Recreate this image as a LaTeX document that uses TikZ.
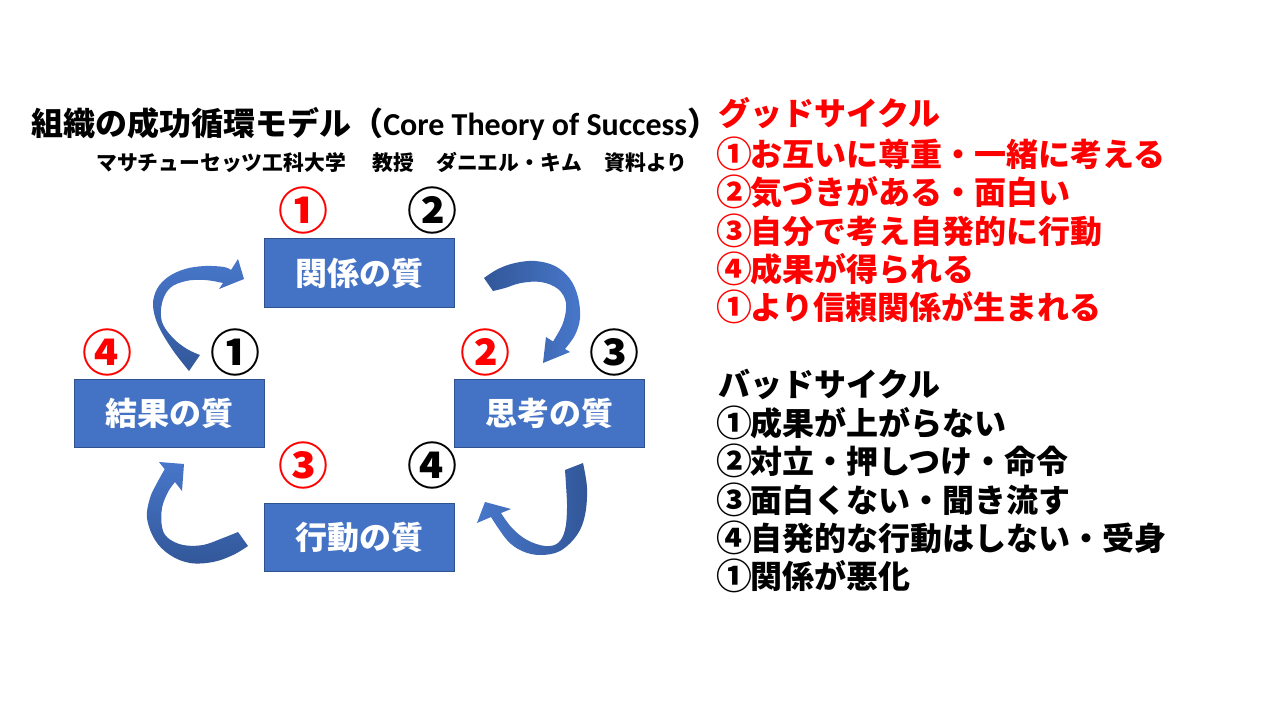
\documentclass[tikz,border=0pt]{standalone}
\usepackage{graphicx}
\usepackage{fontspec}
\setmainfont{Noto Sans CJK JP}
\newfontfamily\latfont{Carlito}
\definecolor{boxblue}{RGB}{68,114,196}
\definecolor{boxborder}{RGB}{47,82,143}
\definecolor{arrdark}{RGB}{50,87,153}
\definecolor{arrlight}{RGB}{72,119,202}
\definecolor{goodred}{RGB}{255,0,0}
\newcommand{\cnm}[1]{\makebox[1em][c]{\raisebox{-0.05em}{\scalebox{1.12}{#1}}}}
\tikzset{
  qbox/.style={draw=boxborder, line width=0.75pt, fill=boxblue, minimum width=142.5pt, minimum height=51pt,
    inner sep=0pt, text=white, font=\fontsize{24pt}{28pt}\selectfont\bfseries},
  cnum/.style={inner sep=0pt, text height=33pt, text depth=4.5pt, font=\fontsize{37.5pt}{40pt}\selectfont\bfseries},
  rnum/.style={cnum, text=goodred},
  tline/.style={anchor=west, inner sep=0pt, text height=21.1pt, text depth=2.9pt, font=\fontsize{24pt}{28pt}\selectfont\bfseries},
  arrowA/.style={top color=arrlight, bottom color=arrdark, draw=none},
  arrowB/.style={left color=arrdark, right color=arrlight, draw=none},
  arrowC/.style={top color=arrlight, bottom color=arrdark, draw=none},
  arrowD/.style={left color=arrlight, right color=arrdark, draw=none}
}
\begin{document}
\begin{tikzpicture}[x=0.75pt,y=-0.75pt]
\useasboundingbox[fill=white] (0,0) rectangle (1280,720);

% title
\node[anchor=west, inner sep=0pt, text height=21.1pt, text depth=2.9pt, font=\fontsize{24pt}{28pt}\selectfont\bfseries] (title) at (31,123)
  {組織の成功循環モデル（{\latfont Core Theory of Success}）};
\node[anchor=west, inner sep=0pt, text height=13.6pt, text depth=1.9pt, font=\fontsize{15.6pt}{18pt}\selectfont\bfseries] (sub) at (96,163)
  {マサチューセッツ工科大学\hspace{1.3em}教授\hspace{1.05em}ダニエル・キム\hspace{1.1em}資料より};

% boxes
\node[qbox] (rel) at (359,273) {関係の質};
\node[qbox] (res) at (169.5,413) {結果の質};
\node[qbox] (thi) at (549,413) {思考の質};
\node[qbox] (act) at (359,537) {行動の質};

% circled numbers
\node[rnum] (r1) at (303,210) {①};
\node[cnum] (b2) at (432,210) {②};
\node[rnum] (r4) at (107,352) {④};
\node[cnum] (b1) at (235,352) {①};
\node[rnum] (r2) at (485,352) {②};
\node[cnum] (b3) at (614,352) {③};
\node[rnum] (r3) at (303,465) {③};
\node[cnum] (b4) at (432,465) {④};

% curved block arrows
% result -> relation (top-left)
\path[arrowA] plot[smooth, tension=0.6] coordinates {(189,371) (172,349) (158,325) (153,305) (157,289) (168,277) (185,269) (205,266) (224,267) (231,270)}
  -- (238,259) -- (244,279) -- (219,289) -- (223,283)
  -- plot[smooth, tension=0.6] coordinates {(223,283) (205,280) (186,281) (170,288) (162,303) (162,322) (173,338) (187,349) (200,355)} -- cycle;
% relation -> thinking (top-right)
\path[arrowB] plot[smooth, tension=0.6] coordinates {(484,278) (498,269) (515,263) (535,261) (555,266) (570,279) (578,297) (580,318) (575,335) (565,349)}
  -- (570,352) -- (543,363) -- (546,337) -- (553,341.5)
  -- plot[smooth, tension=0.6] coordinates {(553,341.5) (563,323) (566,303) (558,289) (541,282) (521,283) (505,288) (493,291)} -- cycle;
% action -> result (bottom-left)
\path[arrowC] plot[smooth, tension=0.6] coordinates {(248,546) (233,555) (213,562) (190,563) (170,555) (155,540) (147,518) (150,498) (157,483) (164.7,469.2)}
  -- (159,462) -- (184,464) -- (182,491) -- (175,482)
  -- plot[smooth, tension=0.6] coordinates {(175,482) (168,492) (162,508) (162,527) (168,538) (183,545) (203,545) (223,538) (238,532)} -- cycle;
% thinking -> action (bottom-right)
\path[arrowD] plot[smooth, tension=0.6] coordinates {(583,463) (587,488) (585,515) (577,535) (560,551) (540,555) (522,551) (507,540) (491,517)}
  -- (477,523) -- (485,502) -- (511,509) -- (501,513)
  -- plot[smooth, tension=0.6] coordinates {(501,513) (512,528) (527,540) (545,546) (558,543) (565,530) (567,508) (566,485) (565,470)} -- cycle;

% good cycle text
\node[tline, text=goodred] (g0) at (718,113) {グッドサイクル};
\node[tline, text=goodred] (g1) at (718,154) {\cnm{①}お互いに尊重・一緒に考える};
\node[tline, text=goodred] (g2) at (718,192) {\cnm{②}気づきがある・面白い};
\node[tline, text=goodred] (g3) at (718,231) {\cnm{③}自分で考え自発的に行動};
\node[tline, text=goodred] (g4) at (718,269) {\cnm{④}成果が得られる};
\node[tline, text=goodred] (g5) at (718,307) {\cnm{①}より信頼関係が生まれる};

% bad cycle text
\node[tline] (k0) at (718,384) {バッドサイクル};
\node[tline] (k1) at (718,423) {\cnm{①}成果が上がらない};
\node[tline] (k2) at (718,461) {\cnm{②}対立・押しつけ・命令};
\node[tline] (k3) at (718,500) {\cnm{③}面白くない・聞き流す};
\node[tline] (k4) at (718,538) {\cnm{④}自発的な行動はしない・受身};
\node[tline] (k5) at (718,576) {\cnm{①}関係が悪化};
\end{tikzpicture}
\end{document}
